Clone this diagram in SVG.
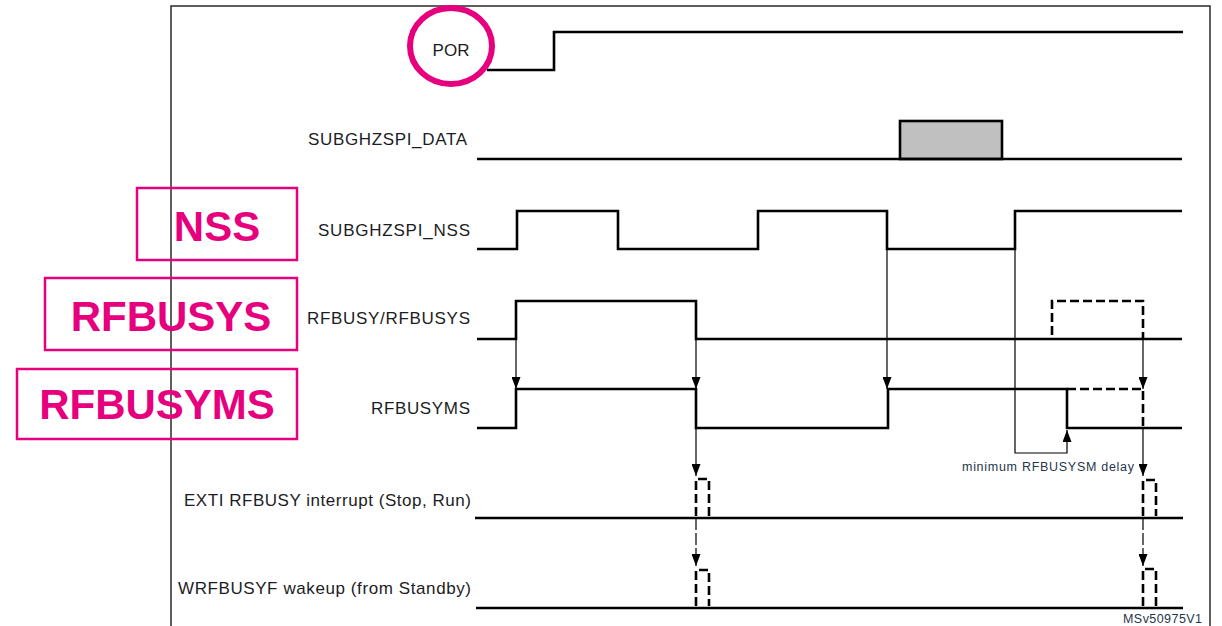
<svg xmlns="http://www.w3.org/2000/svg" width="1222" height="626" viewBox="0 0 1222 626">
<style>
.sig{fill:none;stroke:#000;stroke-width:2.6;stroke-linejoin:miter}
.dash{fill:none;stroke:#000;stroke-width:2.6;stroke-dasharray:9 4}
.thin{fill:none;stroke:#000;stroke-width:1.2}
.thind{fill:none;stroke:#000;stroke-width:1.2;stroke-dasharray:12 3}
.lbl{font-family:"Liberation Sans",Arial,sans-serif;font-size:17px;fill:#1c1c24}
.note{font-family:"Liberation Sans",Arial,sans-serif;font-size:12.5px;fill:#26364a}
.pk{fill:none;stroke:#E6007E;stroke-width:2.5}
.pkt{font-family:"Liberation Sans",Arial,sans-serif;font-weight:bold;font-size:42px;fill:#E6007E;text-anchor:middle}
</style>
<defs>
<marker id="ah" markerUnits="userSpaceOnUse" markerWidth="13" markerHeight="9" refX="12" refY="4.5" orient="auto" viewBox="0 0 13 9">
<path d="M0,0 L12,4.5 L0,9 Z" fill="#000"/>
</marker>
</defs>
<rect id="frame" x="171" y="6" width="1039" height="660" fill="none" stroke="#2a2a2a" stroke-width="1.5"/>

<g id="por">
<text class="lbl" x="451" y="56" text-anchor="middle" font-size="18" textLength="37">POR</text>
<path class="sig" d="M487,70 H554 V32 H1183"/>
<ellipse cx="451" cy="46" rx="41" ry="38" fill="none" stroke="#E6007E" stroke-width="6"/>
</g>

<g id="data">
<text class="lbl" x="467" y="145" text-anchor="end" textLength="159">SUBGHZSPI_DATA</text>
<rect x="900" y="121" width="102" height="38" fill="#C0C0C0" stroke="#000" stroke-width="2.6"/>
<path class="sig" d="M477,159 H1182"/>
</g>

<g id="nss">
<text class="lbl" x="470" y="236" text-anchor="end" textLength="152">SUBGHZSPI_NSS</text>
<path class="sig" d="M477,249 H517 V211 H618 V249 H758 V211 H887 V249 H1015 V211 H1182"/>
<rect class="pk" x="137" y="188" width="160" height="72"/>
<text class="pkt" x="217" y="241">NSS</text>
</g>

<g id="rfbusy">
<text class="lbl" x="470" y="324" text-anchor="end" textLength="163">RFBUSY/RFBUSYS</text>
<path class="sig" d="M477,339 H516 V301 H696 V339 H1182"/>
<path class="dash" d="M1052,335 V301 H1143 V339"/>
<rect class="pk" x="45" y="278" width="252" height="72"/>
<text class="pkt" x="171" y="331">RFBUSYS</text>
</g>

<g id="rfbusyms">
<text class="lbl" x="470" y="414" text-anchor="end" textLength="99">RFBUSYMS</text>
<path class="sig" d="M477,428 H516 V389 H696 V428 H888 V389 H1067 V428 H1182"/>
<path class="dash" d="M1067,389 H1143 V428"/>
<rect class="pk" x="17" y="369" width="280" height="70"/>
<text class="pkt" x="157" y="419">RFBUSYMS</text>
</g>

<g id="exti">
<text class="lbl" x="471" y="506" text-anchor="end" textLength="287">EXTI RFBUSY interrupt (Stop, Run)</text>
<path class="sig" d="M475,518 H1183"/>
<path class="dash" d="M696,516 V479 H709 V516"/>
<path class="dash" d="M1143,516 V480 H1156 V516"/>
</g>

<g id="wrfbusyf">
<text class="lbl" x="471" y="594" text-anchor="end" textLength="293">WRFBUSYF wakeup (from Standby)</text>
<path class="sig" d="M476,608 H1183"/>
<path class="dash" d="M696,606 V570 H709 V606"/>
<path class="dash" d="M1143,606 V569 H1156 V606"/>
</g>

<g id="connectors">
<path class="thin" d="M516,339 V389" marker-end="url(#ah)"/>
<path class="thin" d="M696,339 V389" marker-end="url(#ah)"/>
<path class="thin" d="M887,249 V389" marker-end="url(#ah)"/>
<path class="thin" d="M1143,339 V389" marker-end="url(#ah)"/>
<path class="thin" d="M1015,249 V453 H1067 V430" marker-end="url(#ah)"/>
<path class="thin" d="M696,428 V476" marker-end="url(#ah)"/>
<path class="thin" d="M1143,428 V476" marker-end="url(#ah)"/>
<path class="thind" d="M696,518 V566" marker-end="url(#ah)"/>
<path class="thind" d="M1143,518 V566" marker-end="url(#ah)"/>
</g>

<text class="note" x="962" y="471" textLength="172">minimum RFBUSYSM delay</text>
<text class="note" x="1202" y="623" text-anchor="end" textLength="79">MSv50975V1</text>
</svg>
